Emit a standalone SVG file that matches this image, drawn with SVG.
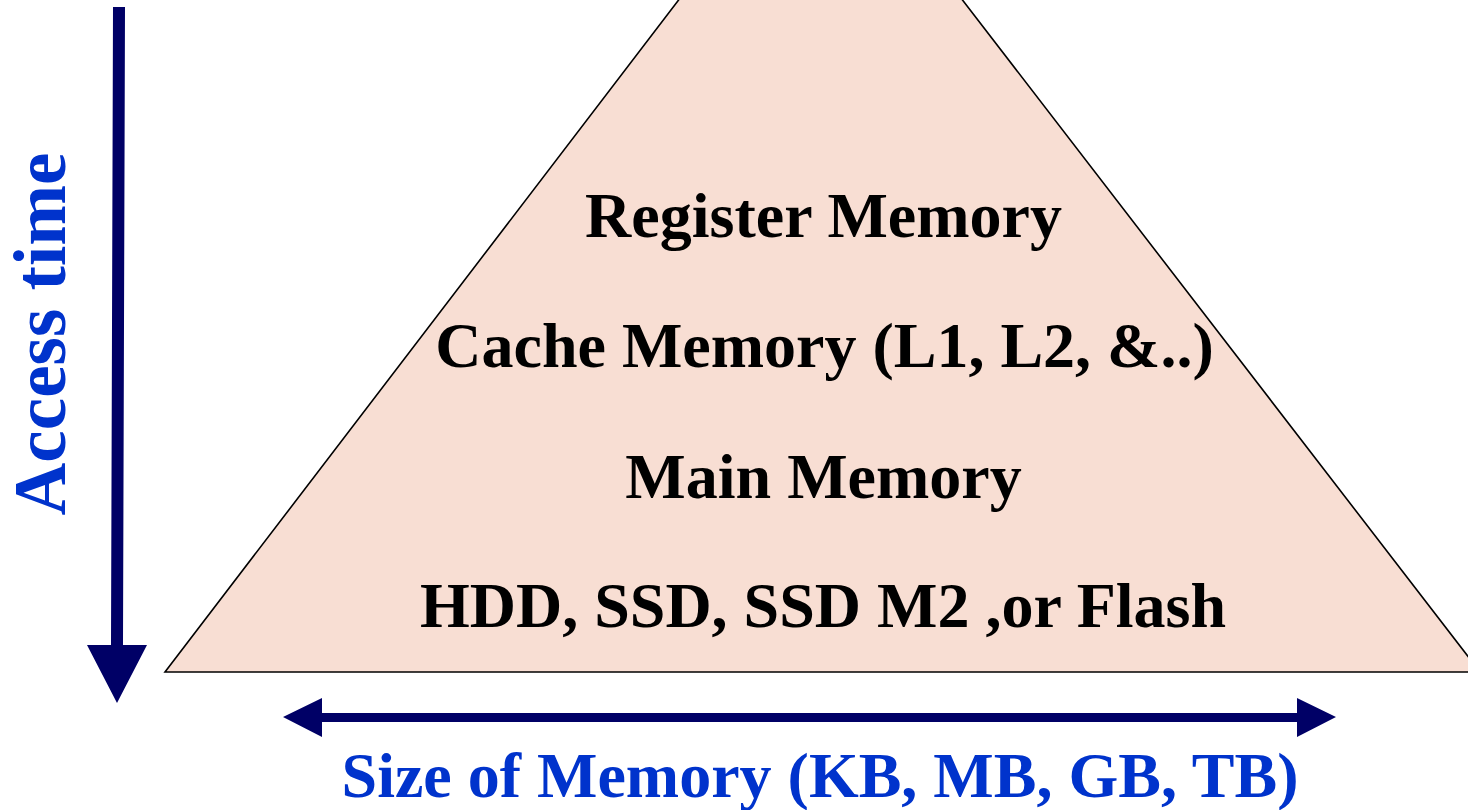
<svg xmlns="http://www.w3.org/2000/svg" width="1468" height="810" viewBox="0 0 1468 810">
<style>
.lbl{font-family:"Liberation Serif","Times New Roman",serif;font-weight:bold;font-size:64px;fill:#000;text-anchor:middle}
.axis{font-family:"Liberation Serif","Times New Roman",serif;font-weight:bold;fill:#0033CC;text-anchor:middle}
.arr{fill:#000066}
</style>
<rect width="1468" height="810" fill="#fff"/>
<g id="pyramid">
<polygon points="820,-185 165,672 1480,672" fill="#F8DED3" stroke="#000" stroke-width="1.6"/>
<text class="lbl" x="823.5" y="237">Register Memory</text>
<text class="lbl" x="824.5" y="367">Cache Memory (L1, L2, &amp;..)</text>
<text class="lbl" x="823.5" y="498">Main Memory</text>
<text class="lbl" x="823" y="627">HDD, SSD, SSD M2 ,or Flash</text>
</g>
<g id="connectors">
<polygon class="arr" points="113,7 125,7 123,645 147,645 117,703 87,645 111,645"/>
<polygon class="arr" points="283,717 322,698 322,713 1297,713 1297,698 1336,717 1297,737 1297,722 322,722 322,737"/>
</g>
<g id="labels">
<text class="axis" x="820" y="797" font-size="64">Size of Memory (KB, MB, GB, TB)</text>
<text class="axis" font-size="73" transform="translate(65,334) rotate(-90)">Access time</text>
</g>
</svg>
